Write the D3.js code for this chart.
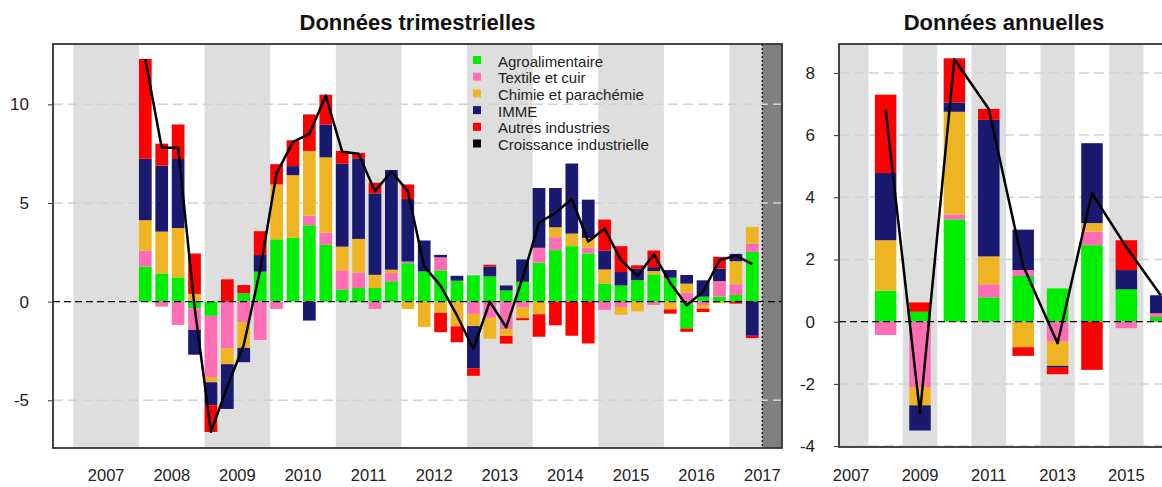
<!DOCTYPE html>
<html>
<head>
<meta charset="utf-8">
<title>Croissance industrielle par branche</title>
<script src="https://cdn.jsdelivr.net/npm/d3@7"></script>
<style>
  body { margin: 0; background: #fff; }
  svg text { font-family: "Liberation Sans", Arial, sans-serif; }
</style>
</head>
<body>
<div id="chart"></div>
<script>
// Données trimestrielles : 2008T1 .. 2017T2 (contributions, en points)
const quarters = ['2008T1','2008T2','2008T3','2008T4','2009T1','2009T2','2009T3','2009T4',
  '2010T1','2010T2','2010T3','2010T4','2011T1','2011T2','2011T3','2011T4',
  '2012T1','2012T2','2012T3','2012T4','2013T1','2013T2','2013T3','2013T4',
  '2014T1','2014T2','2014T3','2014T4','2015T1','2015T2','2015T3','2015T4',
  '2016T1','2016T2','2016T3','2016T4','2017T1','2017T2'];
const agro    = [1.77, 1.43, 1.23, -0.34, -0.72, 0, 0.42, 1.52, 3.16, 3.23, 3.87, 2.88, 0.61, 0.69, 0.69, 1.03, 1.95, 1.53, 1.58, 1.06, 1.33, 1.28, 0.57, 1.01, 1.97, 2.61, 2.81, 2.44, 0.91, 0.82, 1.09, 1.38, 1.21, -1.36, 0.25, 0.25, 0.34, 2.52];
const textile = [0.81, -0.25, -1.18, -1.09, -3.1, -2.36, -1.04, -1.94, -0.37, 0, 0.49, 0.62, 0.97, 0.79, -0.37, 0.42, 0.08, 0, 0.66, 0, -0.62, -0.82, -1.4, -0.3, 0.76, 0.66, 0, 0.29, -0.42, -0.27, 0, -0.17, 0, 0.45, -0.17, 0.79, 0.54, 0.43];
const chimie  = [1.55, 2.12, 2.5, 0.39, -0.27, -0.81, -1.31, 0, 2.78, 3.18, 3.28, 3.81, 1.21, 1.7, 0.67, 0.17, -0.37, -1.28, -0.57, -1.25, -0.62, -1.06, -0.34, -0.54, -0.64, 0.5, 0.64, 0.5, 0.72, -0.4, -0.5, 0.17, -0.39, 0.46, -0.19, -0.08, 1.17, 0.84];
const imme    = [3.11, 3.35, 3.5, -1.26, -1.16, -2.27, -0.72, 0.84, 0, 0.46, -0.96, 1.66, 4.21, 4.08, 4.13, 5.05, 3.17, 1.57, 0.13, 0.25, -2.15, 0.5, 0.25, 1.13, 3.03, 1.99, 3.55, 1.94, 0.96, 0.68, 0.58, 0.2, 0.39, 0.44, 0.83, 0.63, 0.37, -1.73];
const autres  = [5.06, 1.11, 1.75, 2.05, -1.36, 1.13, 0.42, 1.21, 1.03, 1.31, 1.85, 1.52, 0.64, 0.28, 0.54, 0, 0.74, 0, -0.98, -0.81, -0.37, 0.09, -0.39, -0.1, -1.14, -1.2, -1.73, -2.12, 1.57, 1.31, 0.17, 0.84, -0.22, -0.17, -0.17, 0.6, -0.1, -0.12];
const croissance = [12.3, 7.8, 7.8, -0.25, -6.6, -4.3, -2.2, 1.6, 6.5, 8.1, 8.5, 10.45, 7.6, 7.5, 5.6, 6.6, 5.6, 1.8, 0.8, -0.7, -2.4, 0.0, -1.3, 1.2, 4.0, 4.5, 5.2, 3.05, 3.7, 2.1, 1.3, 2.4, 0.95, -0.18, 0.5, 2.1, 2.33, 1.9];

// Données annuelles : 2008 .. 2016
const years = [2008, 2009, 2010, 2011, 2012, 2013, 2014, 2015, 2016];
const agroA    = [0.99, 0.32, 3.29, 0.78, 1.47, 1.07, 2.46, 1.04, 0.15];
const textileA = [-0.43, -2.1, 0.16, 0.42, 0.19, -0.64, 0.44, -0.21, 0.12];
const chimieA  = [1.63, -0.59, 3.3, 0.9, -0.82, -0.78, 0.27, 0, 0];
const immeA    = [2.16, -0.81, 0.3, 4.39, 1.3, -0.06, 2.57, 0.62, 0.58];
const autresA  = [2.52, 0.30, 1.42, 0.35, -0.28, -0.21, -1.55, 0.96, 0];
const croissanceA = [6.82, -2.94, 8.44, 6.84, 1.8, -0.69, 4.13, 2.4, 0.85];

const seriesNames = ['Agroalimentaire', 'Textile et cuir', 'Chimie et parachémie', 'IMME', 'Autres industries'];
const lineName = 'Croissance industrielle';
const colors = ['#00ee00', '#ff6eb4', '#eeb422', '#191970', '#ff0000'];

const yTicksQ = [-5, 0, 5, 10];
const yTicksA = [-4, -2, 0, 2, 4, 6, 8];
const yearLabelsQ = [2007, 2008, 2009, 2010, 2011, 2012, 2013, 2014, 2015, 2016, 2017];
const yearLabelsA = [2007, 2009, 2011, 2013, 2015];
const shadedYears = [2007, 2009, 2011, 2013, 2015, 2017];

const svg = d3.select('#chart').append('svg')
  .attr('width', 1162)
  .attr('height', 487);

// build table rows for d3.stack
function makeRows(labels, cols) {
  return labels.map(function(l, i) {
    const row = { label: l };
    cols.forEach(function(c, k) { row['s' + k] = c[i]; });
    return row;
  });
}

function drawPanel(o) {
  const g = svg.append('g');
  const x = o.x, y = o.y;
  const x0 = x.range()[0], x1 = x.range()[1];
  const y0 = y.range()[1], y1 = y.range()[0];

  g.append('clipPath').attr('id', o.id + '-clip')
    .append('rect').attr('x', x0).attr('y', y0).attr('width', x1 - x0).attr('height', y1 - y0);

  const plot = g.append('g').attr('clip-path', 'url(#' + o.id + '-clip)');

  // grey year bands
  plot.selectAll('.band')
    .data(o.bands)
    .enter()
    .append('rect')
    .attr('x', d => x(d.from))
    .attr('y', y0)
    .attr('width', d => x(d.to) - x(d.from))
    .attr('height', y1 - y0)
    .attr('fill', '#dedede');

  if (o.dark != null) {
    plot.append('rect')
      .attr('x', x(o.dark)).attr('y', y0)
      .attr('width', x1 - x(o.dark)).attr('height', y1 - y0)
      .attr('fill', '#808080');
    plot.append('line')
      .attr('x1', x(o.dark)).attr('x2', x(o.dark))
      .attr('y1', y0).attr('y2', y1)
      .attr('stroke', '#222').attr('stroke-width', 1.5)
      .attr('stroke-dasharray', '2,2');
  }

  // grid
  plot.selectAll('.grid')
    .data(o.yTicks.filter(v => v !== 0))
    .enter()
    .append('line')
    .attr('x1', x0).attr('x2', x1)
    .attr('y1', d => y(d)).attr('y2', d => y(d))
    .attr('stroke', '#d2d2d2').attr('stroke-width', 1.5)
    .attr('stroke-dasharray', '10,5');

  // stacked bars
  const keys = o.cols.map((c, k) => 's' + k);
  const stacked = d3.stack().keys(keys).offset(d3.stackOffsetDiverging)(o.rows);
  plot.selectAll('.layer')
    .data(stacked)
    .enter()
    .append('g')
    .attr('fill', (d, k) => colors[k])
    .selectAll('rect')
    .data(d => d)
    .enter()
    .append('rect')
    .attr('x', (d, i) => x(o.barStart(i)))
    .attr('width', d => x(o.barWidth) - x(0))
    .attr('y', d => y(Math.max(d[0], d[1])))
    .attr('height', d => Math.abs(y(d[0]) - y(d[1])));

  // zero line
  plot.append('line')
    .attr('x1', x0).attr('x2', x1)
    .attr('y1', y(0)).attr('y2', y(0))
    .attr('stroke', '#000').attr('stroke-width', 1.3)
    .attr('stroke-dasharray', '7,4');

  // growth line
  const line = d3.line()
    .x((d, i) => x(o.lineX(i)))
    .y(d => y(d));
  plot.append('path')
    .datum(o.growth)
    .attr('d', line)
    .attr('fill', 'none')
    .attr('stroke', '#000')
    .attr('stroke-width', 2.5)
    .attr('stroke-linejoin', 'round');

  // frame
  g.append('rect')
    .attr('x', x0).attr('y', y0)
    .attr('width', x1 - x0).attr('height', y1 - y0)
    .attr('fill', 'none').attr('stroke', '#333').attr('stroke-width', 1.8);

  // y axis (plain hyphen for negatives, as in the source)
  const yAxis = d3.axisLeft(y).tickValues(o.yTicks).tickSize(5).tickPadding(19).tickFormat(d => String(d));
  const yg = g.append('g').attr('transform', 'translate(' + x0 + ',0)').call(yAxis);
  yg.select('.domain').remove();
  yg.selectAll('line').attr('stroke', '#333');
  yg.selectAll('text').attr('font-size', 17).attr('fill', '#222')
    .attr('font-family', '"Liberation Sans", Arial, sans-serif');

  // year labels
  g.selectAll('.yr')
    .data(o.xLabels)
    .enter()
    .append('text')
    .attr('x', d => x(d.u))
    .attr('y', 481)
    .attr('text-anchor', 'middle')
    .attr('font-size', 16.5)
    .attr('fill', '#222')
    .text(d => d.text);

  // title
  g.append('text')
    .attr('x', (x0 + x1) / 2)
    .attr('y', 30)
    .attr('text-anchor', 'middle')
    .attr('font-size', 22)
    .attr('font-weight', 'bold')
    .attr('fill', '#111')
    .text(o.title);

  return g;
}

// ---- quarterly panel (x unit = one quarter, 0 = 2008T1) ----
const xq = d3.scaleLinear().domain([-5.24, 39.2]).range([53, 782]);
const yq = d3.scaleLinear().domain([-7.42, 13.06]).range([448, 44]);
const qYear = yr => (yr - 2008) * 4;

const gq = drawPanel({
  id: 'trim',
  x: xq, y: yq,
  cols: [agro, textile, chimie, imme, autres],
  rows: makeRows(quarters, [agro, textile, chimie, imme, autres]),
  growth: croissance,
  barStart: i => i,
  barWidth: 0.775,
  lineX: i => i + 0.3875,
  bands: shadedYears.map(yr => ({ from: qYear(yr), to: Math.min(qYear(yr + 1), quarters.length) })),
  dark: quarters.length,
  yTicks: yTicksQ,
  xLabels: yearLabelsQ.map(yr => ({ u: qYear(yr) + 2, text: yr })),
  title: 'Données trimestrielles'
});

// legend
const legendItems = seriesNames.map((n, k) => ({ name: n, color: colors[k] }))
  .concat([{ name: lineName, color: '#000' }]);
const lg = gq.append('g').attr('transform', 'translate(473,56)');
lg.selectAll('rect')
  .data(legendItems)
  .enter()
  .append('rect')
  .attr('x', 0)
  .attr('y', (d, i) => i * 16.7)
  .attr('width', 8).attr('height', 8)
  .attr('fill', d => d.color);
lg.selectAll('text')
  .data(legendItems)
  .enter()
  .append('text')
  .attr('x', 25)
  .attr('y', (d, i) => i * 16.7 + 10.5)
  .attr('font-size', 15)
  .attr('fill', '#222')
  .text(d => d.name);

// ---- annual panel (x unit = year) ----
const xa = d3.scaleLinear().domain([2007.145, 2016.74]).range([839, 1169]);
const ya = d3.scaleLinear().domain([-4.03, 8.93]).range([447, 44]);

drawPanel({
  id: 'ann',
  x: xa, y: ya,
  cols: [agroA, textileA, chimieA, immeA, autresA],
  rows: makeRows(years, [agroA, textileA, chimieA, immeA, autresA]),
  growth: croissanceA,
  barStart: i => years[i] + 0.1875,
  barWidth: 0.625,
  lineX: i => years[i] + 0.5,
  bands: shadedYears.map(yr => ({ from: yr, to: yr + 1 })),
  dark: null,
  yTicks: yTicksA,
  xLabels: yearLabelsA.map(yr => ({ u: yr + 0.5, text: yr })),
  title: 'Données annuelles'
});
</script>
</body>
</html>
